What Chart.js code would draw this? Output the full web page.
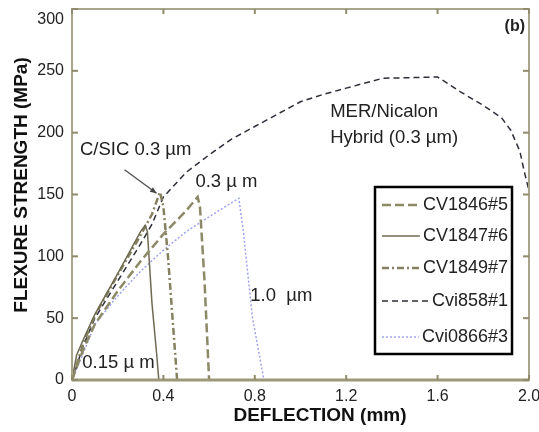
<!DOCTYPE html>
<html>
<head>
<meta charset="utf-8">
<script src="https://cdn.jsdelivr.net/npm/chart.js@4"></script>
<style>
  body { margin: 0; background: #fff; }
  #wrap { width: 539px; height: 432px; position: relative; }
</style>
</head>
<body>
<div id="wrap"><canvas id="flex"></canvas></div>
<script>
// tick labels
var xTicks = [0, 0.4, 0.8, 1.2, 1.6, 2.0];
var yTicks = [0, 50, 100, 150, 200, 250, 300];

// series (deflection mm / strength MPa)
var cv1846_x = [0, 0.05, 0.1, 0.2, 0.3, 0.4, 0.5, 0.55, 0.56, 0.58, 0.6];
var cv1846_y = [0, 25, 45, 72, 96, 118, 137, 148, 140, 80, 0];

var cv1847_x = [0, 0.02, 0.05, 0.1, 0.2, 0.3, 0.32, 0.33, 0.35, 0.37, 0.38];
var cv1847_y = [0, 20, 33, 53, 86, 120, 125, 120, 62, 22, 0];

var cv1849_x = [0, 0.05, 0.1, 0.2, 0.3, 0.35, 0.385, 0.4, 0.42, 0.44, 0.46];
var cv1849_y = [0, 30, 52, 85, 117, 134, 152, 140, 100, 50, 0];

var cvi858_x = [0, 0.05, 0.1, 0.2, 0.3, 0.35, 0.4, 0.5, 0.6, 0.7, 0.8, 0.9, 1.0, 1.1, 1.2, 1.3, 1.36, 1.6, 1.7, 1.8, 1.88, 1.92, 1.96, 1.98, 2.0];
var cvi858_y = [0, 28, 50, 80, 110, 126, 148, 168, 182, 195, 205, 215, 225, 231, 236, 241, 244, 245, 233, 222, 212, 202, 185, 168, 153];

var cvi0866_x = [0, 0.05, 0.1, 0.2, 0.3, 0.4, 0.5, 0.6, 0.73, 0.75, 0.79, 0.84];
var cvi0866_y = [0, 22, 45, 68, 88, 105, 120, 132, 147, 120, 50, 0];

function pts(xs, ys) {
  return xs.map(function(x, i){ return {x: x, y: ys[i]}; });
}

var FONT = "'Liberation Sans', Arial, sans-serif";
var yTop = yTicks[yTicks.length - 1];

var series = [
  {label: "CV1846#5", data: pts(cv1846_x, cv1846_y), borderColor: "#8c8966", borderWidth: 2.5, borderDash: [9, 4]},
  {label: "CV1847#6", data: pts(cv1847_x, cv1847_y), borderColor: "#6f6b52", borderWidth: 1.5, borderDash: []},
  {label: "CV1849#7", data: pts(cv1849_x, cv1849_y), borderColor: "#858160", borderWidth: 2.5, borderDash: [7, 3, 2, 3]},
  {label: "Cvi858#1", data: pts(cvi858_x, cvi858_y), borderColor: "#2e2e3a", borderWidth: 1.5, borderDash: [6, 4]},
  {label: "Cvi0866#3", data: pts(cvi0866_x, cvi0866_y), borderColor: "#9ea4ec", borderWidth: 1.5, borderDash: [2, 2]}
];

// frame with inward ticks, titles, annotations and boxed legend
var extras = {
  id: "extras",
  afterDraw: function(chart) {
    var c = chart.ctx, a = chart.chartArea;
    var xs = chart.scales.x, ys = chart.scales.y;
    c.save();
    // frame
    c.strokeStyle = "#a9a58a";
    c.lineWidth = 2;
    c.strokeRect(a.left, a.top, a.right - a.left, a.bottom - a.top);
    c.strokeStyle = "#9c9878";
    c.lineWidth = 3;
    c.beginPath(); c.moveTo(a.left, a.bottom); c.lineTo(a.right, a.bottom); c.stroke();
    c.lineWidth = 2;
    c.strokeStyle = "#8f8b6c";
    xTicks.forEach(function(t){
      var px = xs.getPixelForValue(t);
      c.beginPath(); c.moveTo(px, a.bottom); c.lineTo(px, a.bottom - 5); c.stroke();
      c.beginPath(); c.moveTo(px, a.top); c.lineTo(px, a.top + 5); c.stroke();
    });
    yTicks.forEach(function(t){
      var py = ys.getPixelForValue(t);
      c.beginPath(); c.moveTo(a.left, py); c.lineTo(a.left + 6, py); c.stroke();
      c.beginPath(); c.moveTo(a.right, py); c.lineTo(a.right - 6, py); c.stroke();
    });

    // top y label sits a little below its tick (as in the original)
    c.fillStyle = "#222";
    c.font = "16px " + FONT;
    c.textAlign = "right";
    c.textBaseline = "middle";
    c.fillText(String(yTop), a.left - 8, ys.getPixelForValue(yTop) + 11);

    // axis titles
    c.fillStyle = "#111";
    c.font = "bold 19px " + FONT;
    c.textAlign = "center";
    c.fillText("DEFLECTION (mm)", 320, 416);
    c.save();
    c.translate(22, 185);
    c.rotate(-Math.PI / 2);
    c.fillText("FLEXURE STRENGTH (MPa)", 0, 0);
    c.restore();

    // annotations
    c.fillStyle = "#222";
    c.font = "18.5px " + FONT;
    c.textAlign = "left";
    function tx(s, x, y) { c.fillText(s, xs.getPixelForValue(x), ys.getPixelForValue(y)); }
    tx("C/SIC 0.3 \u00b5m", 0.035, 186);
    tx("0.3 \u00b5 m", 0.54, 160);
    tx("MER/Nicalon", 1.13, 217);
    tx("Hybrid (0.3 \u00b5m)", 1.13, 196);
    tx("1.0  \u00b5m", 0.78, 68);
    tx("0.15 \u00b5 m", 0.045, 14);
    c.font = "bold 16px " + FONT;
    c.textAlign = "right";
    c.fillText("(b)", a.right - 4, a.top + 18);

    // arrow C/SiC
    var x0 = xs.getPixelForValue(0.23), y0 = ys.getPixelForValue(170);
    var x1 = xs.getPixelForValue(0.37), y1 = ys.getPixelForValue(151);
    c.strokeStyle = "#555";
    c.lineWidth = 1.5;
    c.beginPath(); c.moveTo(x0, y0); c.lineTo(x1, y1); c.stroke();
    var ang = Math.atan2(y1 - y0, x1 - x0);
    c.beginPath();
    c.moveTo(x1, y1);
    c.lineTo(x1 - 7 * Math.cos(ang - 0.4), y1 - 7 * Math.sin(ang - 0.4));
    c.lineTo(x1 - 7 * Math.cos(ang + 0.4), y1 - 7 * Math.sin(ang + 0.4));
    c.closePath();
    c.fillStyle = "#444";
    c.fill();

    // legend box
    var bx = 375, by = 187, bw = 137, bh = 167;
    c.fillStyle = "#fff";
    c.fillRect(bx, by, bw, bh);
    c.strokeStyle = "#000";
    c.lineWidth = 2.5;
    c.strokeRect(bx, by, bw, bh);
    c.font = "18px " + FONT;
    c.textAlign = "right";
    var rows = [205, 236, 268, 301, 337];
    chart.data.datasets.forEach(function(ds, i){
      var ly = rows[i];
      var w = c.measureText(ds.label).width;
      var tr = bx + bw - 4;
      c.fillStyle = "#222";
      c.fillText(ds.label, tr, ly);
      c.strokeStyle = ds.borderColor;
      c.lineWidth = ds.borderWidth;
      c.setLineDash(ds.borderDash);
      c.beginPath(); c.moveTo(bx + 7, ly); c.lineTo(tr - w - 3, ly); c.stroke();
      c.setLineDash([]);
    });
    c.restore();
  }
};

new Chart(document.getElementById("flex"), {
  type: "line",
  data: {
    datasets: series.map(function(s){
      return {
        label: s.label,
        data: s.data,
        borderColor: s.borderColor,
        borderWidth: s.borderWidth,
        borderDash: s.borderDash,
        pointRadius: 0,
        fill: false,
        tension: 0
      };
    })
  },
  options: {
    responsive: true,
    maintainAspectRatio: false,
    animation: false,
    layout: { padding: { top: 9, right: 10, left: 0, bottom: 0 } },
    plugins: { legend: { display: false }, tooltip: { enabled: false } },
    scales: {
      x: {
        type: "linear",
        min: 0, max: 2,
        afterBuildTicks: function(s){ s.ticks = xTicks.map(function(v){ return {value: v}; }); },
        afterFit: function(s){ s.height = 52; s.paddingLeft = 0; s.paddingRight = 0; },
        grid: { display: false, drawTicks: false },
        border: { display: false },
        ticks: {
          color: "#222",
          padding: 7,
          font: { size: 16, family: FONT },
          callback: function(v){ return v === 0 ? "0" : v.toFixed(1); }
        }
      },
      y: {
        min: 0, max: 300,
        afterBuildTicks: function(s){ s.ticks = yTicks.map(function(v){ return {value: v}; }); },
        afterFit: function(s){ s.width = 72; s.paddingTop = 0; s.paddingBottom = 0; },
        grid: { display: false, drawTicks: false },
        border: { display: false },
        ticks: {
          color: "#222",
          padding: 8,
          font: { size: 16, family: FONT },
          // top label is drawn by the plugin, slightly lowered
          callback: function(v){ return v === yTop ? "" : String(v); }
        }
      }
    }
  },
  plugins: [extras]
});
</script>
</body>
</html>
